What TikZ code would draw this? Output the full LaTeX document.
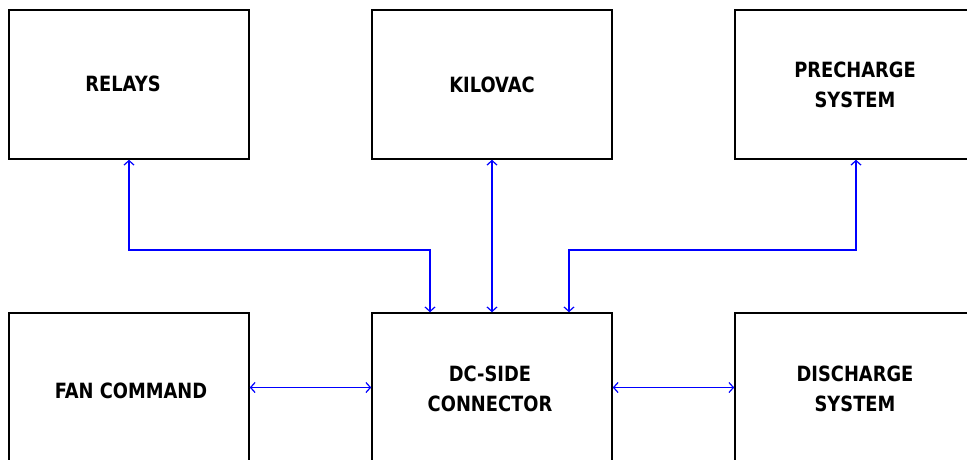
\documentclass[tikz,border=0pt]{standalone}
\usepackage{fontspec}
\setmainfont[FakeStretch=0.85,BoldFeatures={FakeStretch=0.85}]{DejaVu Sans}
\usetikzlibrary{arrows.meta}
\tikzset{
  blk/.style={draw=black, line width=1.5pt, minimum width=240pt, minimum height=149pt, inner sep=0pt},
  lbl/.style={align=center, inner sep=0pt, font=\fontsize{21}{30}\selectfont\bfseries, text=black},
  link/.style={draw=blue, line width=1.2pt, {Straight Barb[length=4.5pt,width=10pt]}-{Straight Barb[length=4.5pt,width=10pt]}}
}
\begin{document}
\begin{tikzpicture}[x=1pt,y=-1pt]
\useasboundingbox (0,0) rectangle (967,459);
\begin{scope}
\clip (0,0) rectangle (967,459);
\node[blk] (relays) at (129,84.5) {};
\node[blk] (kilovac) at (492,84.5) {};
\node[blk] (pre) at (855,84.5) {};
\node[blk] (fan) at (129,387.5) {};
\node[blk] (dc) at (492,387.5) {};
\node[blk] (dis) at (855,387.5) {};
\node[lbl] (trel) at (123,83.5) {RELAYS};
\node[lbl] (tkil) at (492,85) {KILOVAC};
\node[lbl] (tpre) at (855,85.3) {PRECHARGE\\SYSTEM};
\node[lbl] (tfan) at (131,391) {FAN COMMAND};
\node[lbl] (tdc) at (490,388.5) {DC-SIDE\\CONNECTOR};
\node[lbl] (tdis) at (855,388.5) {DISCHARGE\\SYSTEM};
\coordinate (ra) at (129,250);
\coordinate (rb) at (430,250);
\coordinate (pa) at (856,250);
\coordinate (pb) at (569,250);
\draw[link] (relays.south) -- (ra) -- (rb) -- (rb |- dc.north);
\draw[link] (kilovac.south) -- (dc.north);
\draw[link] (pa |- pre.south) -- (pa) -- (pb) -- (pb |- dc.north);
\draw[link] (fan.east) -- (dc.west);
\draw[link] (dc.east) -- (dis.west);
\end{scope}
\end{tikzpicture}
\end{document}
